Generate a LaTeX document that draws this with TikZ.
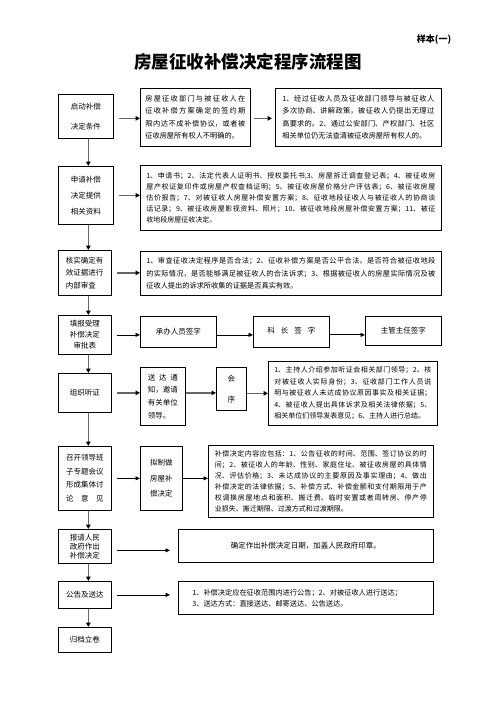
\documentclass[tikz,border=0pt]{standalone}
\usepackage{fontspec}
\setmainfont{Noto Sans CJK SC}
\usetikzlibrary{arrows.meta,positioning}
\XeTeXlinebreaklocale "zh"
\XeTeXlinebreakskip=0pt plus 2pt

\tikzset{
  box/.style={draw, line width=0.7pt, anchor=north west, inner sep=0pt, align=center,
    font=\fontsize{7.5}{9}\selectfont},
  textbox/.style={box, align=justify},
  garrow/.style={draw=black!60, line width=1.5pt, -{Triangle[length=4.5pt,width=4.5pt,color=black]}},
  hgarrow/.style={garrow, shorten <=5pt},
  barrow/.style={line width=0.6pt, shorten <=5pt, -{Triangle[length=4.5pt,width=4pt]}},
}

\begin{document}
\begin{tikzpicture}[x=1pt,y=-1pt]
\useasboundingbox (0,0) rectangle (496,702);

\node[font=\bfseries\fontsize{9}{9}\selectfont] (sample) at (434,40) {样本(一)};
\node[font=\bfseries\fontsize{17.5}{18}\selectfont] (title) at (248,62) {房屋征收补偿决定程序流程图};

% row 1
\node[box, minimum width=55, minimum height=44] (start) at (58,94) {启动补偿\\[11pt]决定条件};
\node[textbox, minimum width=110, minimum height=58, text width=100pt,
  font=\fontsize{7.2}{12.6}\selectfont] (cond) at (140,88) {房屋征收部门与被征收人在\linebreak 征收补偿方案确定的签约期\linebreak 限内达不成补偿协议，或者被\linebreak 征收房屋所有权人不明确的。};
\node[textbox, minimum width=166, minimum height=58, text width=152pt,
  font=\fontsize{7.2}{12.6}\selectfont] (fail) at (275,88) {1、经过征收人员及征收部门领导与被征收人\linebreak 多次协商、讲解政策，被征收人仍提出无理过\linebreak 高要求的。2、通过公安部门、产权部门、社区\linebreak 相关单位仍无法查清被征收房屋所有权人的。};

% row 2
\node[box, minimum width=55, minimum height=58, font=\fontsize{7.5}{9}\selectfont] (apply) at (58,166) {申请补偿\\[7pt]决定提供\\[7pt]相关资料};
\node[textbox, minimum width=301, minimum height=65, text width=289pt,
  font=\fontsize{7}{11.2}\selectfont] (docs) at (140,165) {1、申请书；2、法定代表人证明书、授权委托书;3、房屋拆迁调查登记表；4、被征收房\linebreak 屋产权证复印件或房屋产权查档证明；5、被征收房屋价格分户评估表；6、被征收房屋\linebreak 估价报告；7、对被征收人房屋补偿安置方案；8、征收地段征收人与被征收人的协商谈\linebreak 话记录；9、被征收房屋影视资料、照片；10、被征收地段房屋补偿安置方案；11、被征\linebreak 收地段房屋征收决定。};

% row 3
\node[box, minimum width=53, minimum height=45, text width=38pt, align=left,
  font=\fontsize{7.5}{12.5}\selectfont] (verify) at (58,250) {核实确定有\\效证据进行\\内部审查};
\node[textbox, minimum width=301, minimum height=44, text width=289pt,
  font=\fontsize{7.2}{12.5}\selectfont] (review) at (140,251) {1、审查征收决定程序是否合法；2、征收补偿方案是否公平合法，是否符合被征收地段\linebreak 的实际情况，是否能够满足被征收人的合法诉求；3、根据被征收人的房屋实际情况及被\linebreak 征收人提出的诉求所收集的证据是否真实有效。};

% row 4
\node[box, minimum width=53, minimum height=39, font=\fontsize{7.5}{11}\selectfont] (form) at (58,315) {填报受理\\补偿决定\\审批表};
\node[box, minimum width=76, minimum height=31] (staff) at (140,316) {承办人员签字};
\node[box, minimum width=76, minimum height=31] (chief) at (253,316) {\raisebox{4pt}{\makebox[48pt][s]{科 长 签 字}}};
\node[box, minimum width=76, minimum height=29] (head) at (365,316) {主管主任签字};

% row 5
\node[box, minimum width=53, minimum height=39] (hearing) at (58,373) {组织听证};
\node[box, minimum width=45, minimum height=58, text width=30pt, align=left,
  font=\fontsize{7.5}{12.7}\selectfont] (notice) at (140,367) {\makebox[30pt][s]{送\hfill 达\hfill 通}\\知，邀请\\有关单位\\领导。};
\node[box, minimum width=30, minimum height=43] (meet) at (216,367) {会\\[12pt]序};
\node[textbox, minimum width=169, minimum height=64, text width=157pt,
  font=\fontsize{7}{11.5}\selectfont] (steps) at (268,361) {1、主持人介绍参加听证会相关部门领导；2、核\linebreak 对被征收人实际身份；3、征收部门工作人员说\linebreak 明与被征收人未达成协议原因事实及相关证据；\linebreak 4、被征收人提出具体诉求及相关法律依据；5、\linebreak 相关单位们领导发表意见；6、主持人进行总结。};

% row 6
\node[box, minimum width=53, minimum height=64, font=\fontsize{7.5}{13.5}\selectfont] (discuss) at (58,446) {召开领导班\\子专题会议\\形成集体讨\\论　意　见};
\node[box, minimum width=42, minimum height=64, font=\fontsize{7.5}{9}\selectfont] (draft) at (140,446) {拟制做\\[6.5pt]房屋补\\[6.5pt]偿决定};
\node[textbox, minimum width=225, minimum height=72, text width=212pt,
  font=\fontsize{7}{11}\selectfont] (content) at (208,445) {补偿决定内容应包括：1、公告征收的时间、范围、签订协议的时\linebreak 间；2、被征收人的年龄、性别、家庭住址、被征收房屋的具体情\linebreak 况、评估价格；3、未达成协议的主要原因及事实理由；4、做出\linebreak 补偿决定的法律依据；5、补偿方式、补偿金额和支付期限用于产\linebreak 权调换房屋地点和面积、搬迁费、临时安置或者周转房、停产停\linebreak 业损失、搬迁期限、过渡方式和过渡期限。};

% row 7
\node[box, minimum width=53, minimum height=34] (report) at (58,529) {报请人民\\政府作出\\补偿决定};
\node[box, minimum width=255, minimum height=33] (seal) at (178,529) {确定作出补偿决定日期，加盖人民政府印章。};

% row 8
\node[box, minimum width=53, minimum height=27] (publish) at (58,581) {公告及送达};
\node[box, minimum width=255, minimum height=33, text width=227pt, align=left,
  font=\fontsize{7.2}{11}\selectfont] (serve) at (178,581) {1、补偿决定应在征收范围内进行公告；2、对被征收人进行送达；\\3、送达方式：直接送达、邮寄送达、公告送达。};

% row 9
\node[box, minimum width=53, minimum height=25] (archive) at (58,627) {归档立卷};

% main column
\draw[garrow] ([xshift=2.5]start.south) -- ([xshift=2.5]apply.north);
\draw[garrow] ([xshift=2.5]apply.south) -- ([xshift=3.5]verify.north);
\draw[garrow] ([xshift=3.5]verify.south) -- ([xshift=3.5]form.north);
\draw[garrow] ([xshift=3.5]form.south) -- ([xshift=3.5]hearing.north);
\draw[garrow] ([xshift=3.5]hearing.south) -- ([xshift=3.5]discuss.north);
\draw[garrow] ([xshift=3.5]discuss.south) -- ([xshift=3.5]report.north);
\draw[garrow] ([xshift=3.5]report.south) -- ([xshift=3.5]publish.north);
\draw[garrow] ([xshift=3.5]publish.south) -- ([xshift=3.5]archive.north);

% side branches
\draw[hgarrow] ([yshift=-2]start.east) -- ([yshift=-2]start.east -| cond.west);
\draw[garrow, shorten <=3pt, shorten >=3pt] ([yshift=-2]start.east -| cond.east) -- ([yshift=-2]start.east -| fail.west);
\draw[hgarrow] (apply.east) -- (apply.east -| docs.west);
\draw[hgarrow] (verify.east) -- (verify.east -| review.west);
\draw[barrow] (form.east) -- (form.east -| staff.west);
\draw[barrow, shorten <=0pt] (form.east -| staff.east) -- (form.east -| chief.west);
\draw[barrow, line width=0.9pt, shorten <=0pt] ([yshift=-3]chief.east) -- ([yshift=-3]chief.east -| head.west);
\draw[hgarrow] (hearing.east) -- (hearing.east -| notice.west);
\draw[garrow] (hearing.east -| notice.east) -- (hearing.east -| meet.west);
\draw[garrow] (steps.west -| meet.east) -- (steps.west);
\draw[barrow] (discuss.east) -- (discuss.east -| draft.west);
\draw[barrow, shorten <=0pt] (discuss.east -| draft.east) -- (discuss.east -| content.west);
\draw[barrow, shorten >=8pt] ([yshift=-4]report.east) -- ([yshift=-4]report.east -| seal.west);
\draw[barrow, shorten >=8pt] (publish.east) -- (publish.east -| serve.west);

\end{tikzpicture}
\end{document}
